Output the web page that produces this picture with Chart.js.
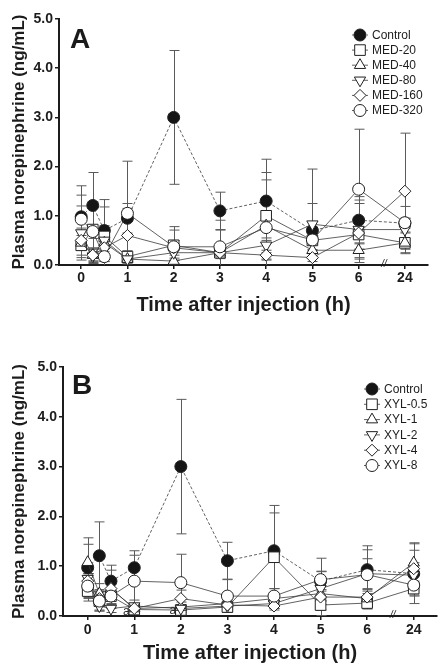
<!DOCTYPE html>
<html>
<head>
<meta charset="utf-8">
<script src="https://cdn.jsdelivr.net/npm/chart.js@4.4.1/dist/chart.umd.min.js"></script>
<style>
  html, body { margin: 0; padding: 0; background: #fff; }
  .panel { width: 448px; height: 335px; }
  canvas { display: block; }
</style>
</head>
<body>
<div class="panel"><canvas id="chartA" width="448" height="335"></canvas></div>
<div class="panel"><canvas id="chartB" width="448" height="335"></canvas></div>
<script>
// sampling times (h); 24 h sits after the axis break
const times = [0, 0.25, 0.5, 1, 2, 3, 4, 5, 6, 24];
const tickLabels = ['0', '1', '2', '3', '4', '5', '6', '24'];
const yTicks = [0, 1, 2, 3, 4, 5];

// Panel A - medetomidine
const labelsA = ['Control', 'MED-20', 'MED-40', 'MED-80', 'MED-160', 'MED-320'];
const controlA = [0.98, 1.21, 0.70, 0.95, 3.00, 1.10, 1.30, 0.70, 0.91, 0.85];
const controlA_sem = [0.63, 0.67, 0.63, 0.30, 1.36, 0.38, 0.85, 1.25, 0.48, 0.10];
const med20 = [0.40, 0.72, 0.58, 0.17, 0.40, 0.25, 1.00, 0.50, 0.62, 0.45];
const med20_sem = [0.20, 0.45, 0.60, 0.12, 0.31, 0.46, 0.88, 0.20, 0.30, 0.22];
const med40 = [0.45, 0.20, 0.45, 0.12, 0.08, 0.25, 0.80, 0.30, 0.30, 0.45];
const med40_sem = [0.30, 0.15, 0.25, 0.08, 0.06, 0.10, 0.30, 0.15, 0.15, 0.20];
const med80 = [0.65, 0.18, 0.50, 0.12, 0.25, 0.25, 0.40, 0.83, 0.72, 0.72];
const med80_sem = [0.55, 0.15, 0.30, 0.10, 0.15, 0.12, 0.15, 0.42, 0.60, 0.23];
const med160 = [0.50, 0.20, 0.35, 0.60, 0.35, 0.25, 0.20, 0.15, 0.65, 1.50];
const med160_sem = [0.20, 0.12, 0.20, 0.55, 0.15, 0.10, 0.10, 0.08, 0.60, 1.18];
const med320 = [0.93, 0.68, 0.17, 1.05, 0.37, 0.37, 0.76, 0.51, 1.54, 0.86];
const med320_sem = [0.49, 0.60, 0.10, 1.06, 0.41, 0.54, 0.97, 0.20, 1.22, 0.33];

// Panel B - xylazine
const labelsB = ['Control', 'XYL-0.5', 'XYL-1', 'XYL-2', 'XYL-4', 'XYL-8'];
const controlB = [0.97, 1.21, 0.70, 0.97, 3.00, 1.11, 1.31, 0.70, 0.93, 0.85];
const controlB_sem = [0.60, 0.68, 0.32, 0.34, 1.35, 0.37, 0.91, 0.20, 0.48, 0.60];
const xyl05 = [0.50, 0.30, 0.40, 0.13, 0.12, 0.18, 1.18, 0.22, 0.26, 0.55];
const xyl05_sem = [0.20, 0.18, 0.15, 0.08, 0.08, 0.10, 0.89, 0.10, 0.12, 0.15];
const xyl1 = [1.08, 0.45, 0.55, 0.15, 0.18, 0.25, 0.35, 0.45, 0.35, 1.07];
const xyl1_sem = [0.36, 0.20, 0.37, 0.10, 0.10, 0.10, 0.20, 0.44, 0.15, 0.40];
const xyl2 = [0.75, 0.20, 0.15, 0.20, 0.15, 0.20, 0.25, 0.55, 0.85, 0.82];
const xyl2_sem = [0.10, 0.10, 0.08, 0.12, 0.08, 0.10, 0.10, 0.20, 0.30, 0.25];
const xyl4 = [0.70, 0.35, 0.55, 0.15, 0.35, 0.22, 0.20, 0.38, 0.38, 0.95];
const xyl4_sem = [0.15, 0.15, 0.20, 0.08, 0.17, 0.10, 0.08, 0.15, 0.15, 0.37];
const xyl8 = [0.60, 0.30, 0.40, 0.70, 0.67, 0.40, 0.40, 0.73, 0.83, 0.62];
const xyl8_sem = [0.25, 0.20, 0.25, 0.52, 0.57, 0.33, 0.15, 0.43, 0.50, 0.20];

// significance marks in panel B ("a")
const markTimes = [1, 2];
const markValues = [0.08, 0.10];

// marker styles, one per series position
const markers = [
    { shape: 'circle', r: 6, fill: '#151515', dash: [3, 2], order: 6 },
    { shape: 'rect', r: 7.5, fill: '#fff', dash: [], order: 5 },
    { shape: 'triangle', r: 6.5, fill: '#fff', dash: [], order: 4 },
    { shape: 'triangle', r: 6.5, rot: 180, fill: '#fff', dash: [], order: 3 },
    { shape: 'rectRot', r: 6, fill: '#fff', dash: [], order: 2 },
    { shape: 'circle', r: 6, fill: '#fff', dash: [], order: 1 }
];

Chart.defaults.font.family = 'Arial, "Liberation Sans", Helvetica, sans-serif';
Chart.defaults.color = '#1c1c1c';

const toAxis = (t) => (t === 24 ? 7 : t);

function makeSet(label, values, sem, m) {
    return {
        label: label,
        sem: sem,
        data: times.map((t, i) => ({ x: toAxis(t), y: values[i] })),
        borderColor: '#3a3a3a',
        borderWidth: 0.8,
        borderDash: m.dash,
        pointStyle: m.shape,
        rotation: m.rot || 0,
        pointRadius: m.r,
        pointHoverRadius: m.r,
        pointBackgroundColor: m.fill,
        pointBorderColor: '#202020',
        pointBorderWidth: 1,
        tension: 0,
        order: m.order
    };
}

function drawMarker(ctx, m, x, y) {
    const opts = { pointStyle: m.shape, rotation: m.rot || 0, radius: m.r, borderWidth: 1 };
    ctx.fillStyle = m.fill;
    ctx.strokeStyle = '#202020';
    ctx.lineWidth = 1;
    Chart.helpers.drawPoint(ctx, opts, x, y);
}

// error bars drawn under the markers, through the chart's own scales
const errorBars = {
    id: 'errorBars',
    beforeDatasetsDraw(chart) {
        const ctx = chart.ctx;
        const xs = chart.scales.x, ys = chart.scales.y;
        ctx.save();
        ctx.strokeStyle = '#5a5a5a';
        ctx.lineWidth = 1;
        chart.data.datasets.forEach((ds) => {
            ds.data.forEach((p, i) => {
                const e = ds.sem[i];
                const x = Math.round(xs.getPixelForValue(p.x)) + 0.5;
                const top = ys.getPixelForValue(p.y + e);
                const bot = ys.getPixelForValue(Math.max(0, p.y - e));
                ctx.beginPath();
                ctx.moveTo(x, top);
                ctx.lineTo(x, bot);
                ctx.moveTo(x - 5, top);
                ctx.lineTo(x + 5, top);
                if (p.y - e > 0) {
                    ctx.moveTo(x - 5, bot);
                    ctx.lineTo(x + 5, bot);
                }
                ctx.stroke();
            });
        });
        ctx.restore();
    }
};

// legend, panel letter, axis break and notes
const extras = {
    id: 'extras',
    afterDraw(chart, args, opts) {
        const ctx = chart.ctx;
        const xs = chart.scales.x, ys = chart.scales.y;
        ctx.save();
        // panel letter
        ctx.font = 'bold 28px Arial, "Liberation Sans", sans-serif';
        ctx.fillStyle = '#1a1a1a';
        ctx.textBaseline = 'alphabetic';
        ctx.textAlign = 'left';
        ctx.fillText(opts.letter, opts.letterX, opts.letterY);

        // legend
        chart.data.datasets.forEach((ds, i) => {
            const m = markers[i];
            const y = opts.legY + i * opts.legGap;
            ctx.strokeStyle = '#3a3a3a';
            ctx.lineWidth = 0.8;
            ctx.setLineDash(m.dash);
            ctx.beginPath();
            ctx.moveTo(opts.legX - 8, y);
            ctx.lineTo(opts.legX + 8, y);
            ctx.stroke();
            ctx.setLineDash([]);
            drawMarker(ctx, m, opts.legX, y);
            ctx.fillStyle = '#1c1c1c';
            ctx.font = '12px Arial, "Liberation Sans", sans-serif';
            ctx.textAlign = 'left';
            ctx.textBaseline = 'middle';
            ctx.fillText(ds.label, opts.legX + 12, y + 0.5);
        });

        // axis break
        const bx = xs.getPixelForValue(6.55);
        const by = ys.getPixelForValue(0);
        ctx.font = 'italic 10px Arial, "Liberation Sans", sans-serif';
        ctx.textAlign = 'center';
        ctx.textBaseline = 'middle';
        ctx.fillStyle = '#1c1c1c';
        ctx.fillText('//', bx, by - 1);

        // "a" marks
        if (opts.marks) {
            ctx.font = '12px Arial, "Liberation Sans", sans-serif';
            ctx.fillStyle = '#2a2a2a';
            markTimes.forEach((t, i) => {
                ctx.fillText('a', xs.getPixelForValue(t - 0.17), ys.getPixelForValue(markValues[i]));
            });
        }
        ctx.restore();
    }
};

function buildChart(id, labels, series, sems, g) {
    const datasets = series.map((v, i) => makeSet(labels[i], v, sems[i], markers[i]));
    return new Chart(document.getElementById(id), {
        type: 'line',
        data: { datasets: datasets },
        plugins: [errorBars, extras],
        options: {
            responsive: false,
            animation: false,
            events: [],
            layout: { padding: { top: g.top, right: g.right, bottom: 0, left: 0 } },
            scales: {
                x: {
                    type: 'linear',
                    min: g.xMin,
                    max: 7.5,
                    afterFit: (s) => { s.height = g.xHeight; },
                    afterBuildTicks: (s) => { s.ticks = tickLabels.map((l, i) => ({ value: i })); },
                    ticks: {
                        callback: (v) => tickLabels[v],
                        font: { size: 14, weight: 'bold' },
                        color: '#1c1c1c',
                        padding: g.tickPad,
                        maxRotation: 0,
                        autoSkip: false
                    },
                    grid: { drawOnChartArea: false, drawTicks: true, tickLength: 4, color: '#1c1c1c', lineWidth: 1.5 },
                    border: { color: '#1c1c1c', width: 2 },
                    title: {
                        display: true,
                        text: 'Time after injection (h)',
                        font: { size: 20, weight: 'bold' },
                        color: '#1c1c1c',
                        padding: { top: 0, bottom: g.titlePad }
                    }
                },
                y: {
                    min: 0,
                    max: 5,
                    afterFit: (s) => { s.width = g.yWidth; },
                    afterBuildTicks: (s) => { s.ticks = yTicks.map((v) => ({ value: v })); },
                    ticks: {
                        callback: (v) => v.toFixed(1),
                        font: { size: 14, weight: 'bold' },
                        color: '#1c1c1c',
                        padding: 2
                    },
                    grid: { drawOnChartArea: false, drawTicks: true, tickLength: 4, color: '#1c1c1c', lineWidth: 1.5 },
                    border: { color: '#1c1c1c', width: 2 },
                    title: {
                        display: true,
                        text: 'Plasma norepinephrine (ng/mL)',
                        font: { size: 17, weight: 'bold' },
                        color: '#1c1c1c',
                        padding: { top: 9, bottom: 0 }
                    }
                }
            },
            plugins: {
                legend: { display: false },
                tooltip: { enabled: false },
                extras: g.extras
            }
        }
    });
}

buildChart('chartA', labelsA,
    [controlA, med20, med40, med80, med160, med320],
    [controlA_sem, med20_sem, med40_sem, med80_sem, med160_sem, med320_sem],
    {
        top: 19, right: 20, xMin: -0.48, xHeight: 70, yWidth: 59, tickPad: 1, titlePad: 18,
        extras: { letter: 'A', letterX: 70, letterY: 48, legX: 360, legY: 35, legGap: 15.1, marks: false }
    });

buildChart('chartB', labelsB,
    [controlB, xyl05, xyl1, xyl2, xyl4, xyl8],
    [controlB_sem, xyl05_sem, xyl1_sem, xyl2_sem, xyl4_sem, xyl8_sem],
    {
        top: 32, right: 11, xMin: -0.53, xHeight: 54, yWidth: 63, tickPad: 2, titlePad: 5,
        extras: { letter: 'B', letterX: 72, letterY: 59, legX: 372, legY: 54, legGap: 15.3, marks: true }
    });
</script>
</body>
</html>
